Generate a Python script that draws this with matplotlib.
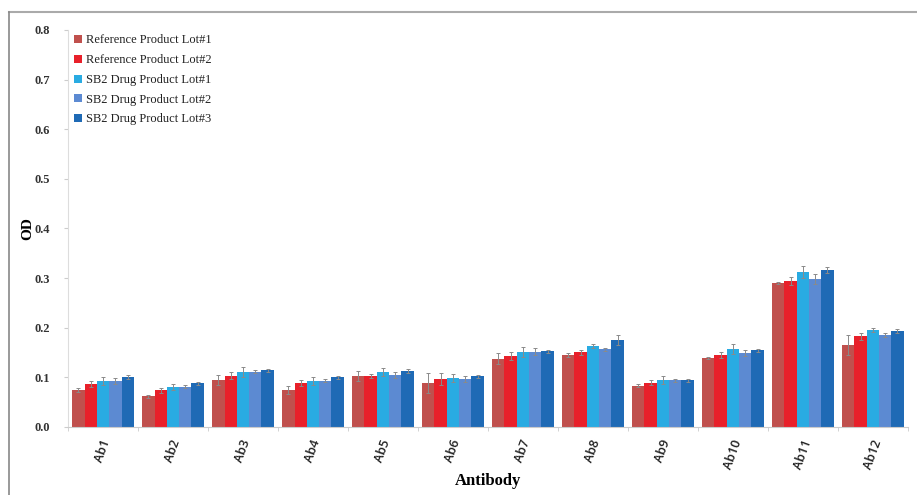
import matplotlib
matplotlib.use("Agg")
import matplotlib.pyplot as plt
import numpy as np
from matplotlib.lines import Line2D

categories = ["Ab1", "Ab2", "Ab3", "Ab4", "Ab5", "Ab6", "Ab7", "Ab8", "Ab9", "Ab10", "Ab11", "Ab12"]
series_names = ["Reference Product Lot#1", "Reference Product Lot#2",
                "SB2 Drug Product Lot#1", "SB2 Drug Product Lot#2", "SB2 Drug Product Lot#3"]
ref1 = [0.075, 0.062, 0.094, 0.074, 0.103, 0.089, 0.138, 0.146, 0.083, 0.140, 0.291, 0.165]
ref2 = [0.087, 0.074, 0.103, 0.089, 0.103, 0.097, 0.143, 0.151, 0.089, 0.145, 0.294, 0.183]
sb1 = [0.093, 0.081, 0.111, 0.093, 0.110, 0.099, 0.152, 0.164, 0.094, 0.157, 0.313, 0.195]
sb2 = [0.093, 0.081, 0.111, 0.093, 0.105, 0.097, 0.152, 0.157, 0.094, 0.149, 0.298, 0.186]
sb3 = [0.101, 0.088, 0.114, 0.100, 0.113, 0.102, 0.153, 0.175, 0.094, 0.155, 0.316, 0.193]
err_ref1 = [0.004, 0.003, 0.010, 0.008, 0.010, 0.020, 0.012, 0.004, 0.003, 0.002, 0.002, 0.020]
err_ref2 = [0.006, 0.005, 0.007, 0.006, 0.004, 0.012, 0.008, 0.005, 0.005, 0.006, 0.008, 0.007]
err_sb1 = [0.008, 0.006, 0.010, 0.008, 0.008, 0.008, 0.010, 0.004, 0.008, 0.010, 0.012, 0.004]
err_sb2 = [0.006, 0.003, 0.003, 0.003, 0.006, 0.006, 0.007, 0.003, 0.003, 0.006, 0.010, 0.004]
err_sb3 = [0.004, 0.003, 0.003, 0.003, 0.004, 0.003, 0.003, 0.010, 0.003, 0.003, 0.006, 0.004]
colors = ["#C0504D", "#E8202A", "#29ABE2", "#5C8AD2", "#1F6AB5"]

values = [ref1, ref2, sb1, sb2, sb3]
errors = [err_ref1, err_ref2, err_sb1, err_sb2, err_sb3]

fig = plt.figure(figsize=(9.17, 4.95), dpi=100)
ax = fig.add_axes([0.0742, 0.1374, 0.9158, 0.802])

x = np.arange(len(categories))
w = 0.176
for i, (v, e, c, n) in enumerate(zip(values, errors, colors, series_names)):
    ax.bar(x + (i - 2) * w, v, w, color=c, label=n, yerr=e,
           error_kw=dict(ecolor="#8a8a8a", elinewidth=0.7, capsize=1.5, capthick=0.7))

ax.set_xlim(-0.5, len(categories) - 0.5)
ax.set_ylim(0, 0.8)
ax.set_yticks(np.arange(0, 0.81, 0.1))
ax.set_yticklabels([f"{t:.1f}" for t in np.arange(0, 0.81, 0.1)],
                   fontfamily="Liberation Serif", fontweight="bold", fontsize=9, color="#333333")
ax.set_xticks(x)
ax.set_xticklabels(categories, rotation=70, fontsize=9, fontfamily="Open Sans",
                   fontweight="semibold", color="#222222", ha="center", va="top")
ax.set_xticks(np.arange(-0.5, len(categories), 1), minor=True)
ax.tick_params(axis="x", which="major", length=0, pad=8)
ax.tick_params(axis="x", which="minor", length=3, color="#cccccc")
ax.tick_params(axis="y", length=3, color="#cccccc", pad=10)
for s in ["top", "right"]:
    ax.spines[s].set_visible(False)
ax.spines["left"].set_color("#dddddd")
ax.spines["bottom"].set_color("#cccccc")

ax.set_ylabel("OD", fontfamily="Liberation Serif", fontweight="bold", fontsize=11, labelpad=0)
ax.set_xlabel("Antibody", fontfamily="Liberation Serif", fontweight="bold", fontsize=12, labelpad=1)

leg = ax.legend(loc="upper left", bbox_to_anchor=(-0.006, 1.017), frameon=False,
                prop=dict(family="Liberation Serif", size=9),
                handlelength=0.6, handleheight=0.6, handletextpad=0.3, labelspacing=0.62)
for t in leg.get_texts():
    t.set_color("#222222")

# outer frame lines (top and left)
fig.add_artist(Line2D([9 / 917, 1.0], [1 - 12 / 495, 1 - 12 / 495], color="#aaaaaa", lw=1.5,
                      transform=fig.transFigure))
fig.add_artist(Line2D([9 / 917, 9 / 917], [0, 1 - 12 / 495], color="#888888", lw=1.2,
                      transform=fig.transFigure))

fig.savefig("out.png", dpi=100)
